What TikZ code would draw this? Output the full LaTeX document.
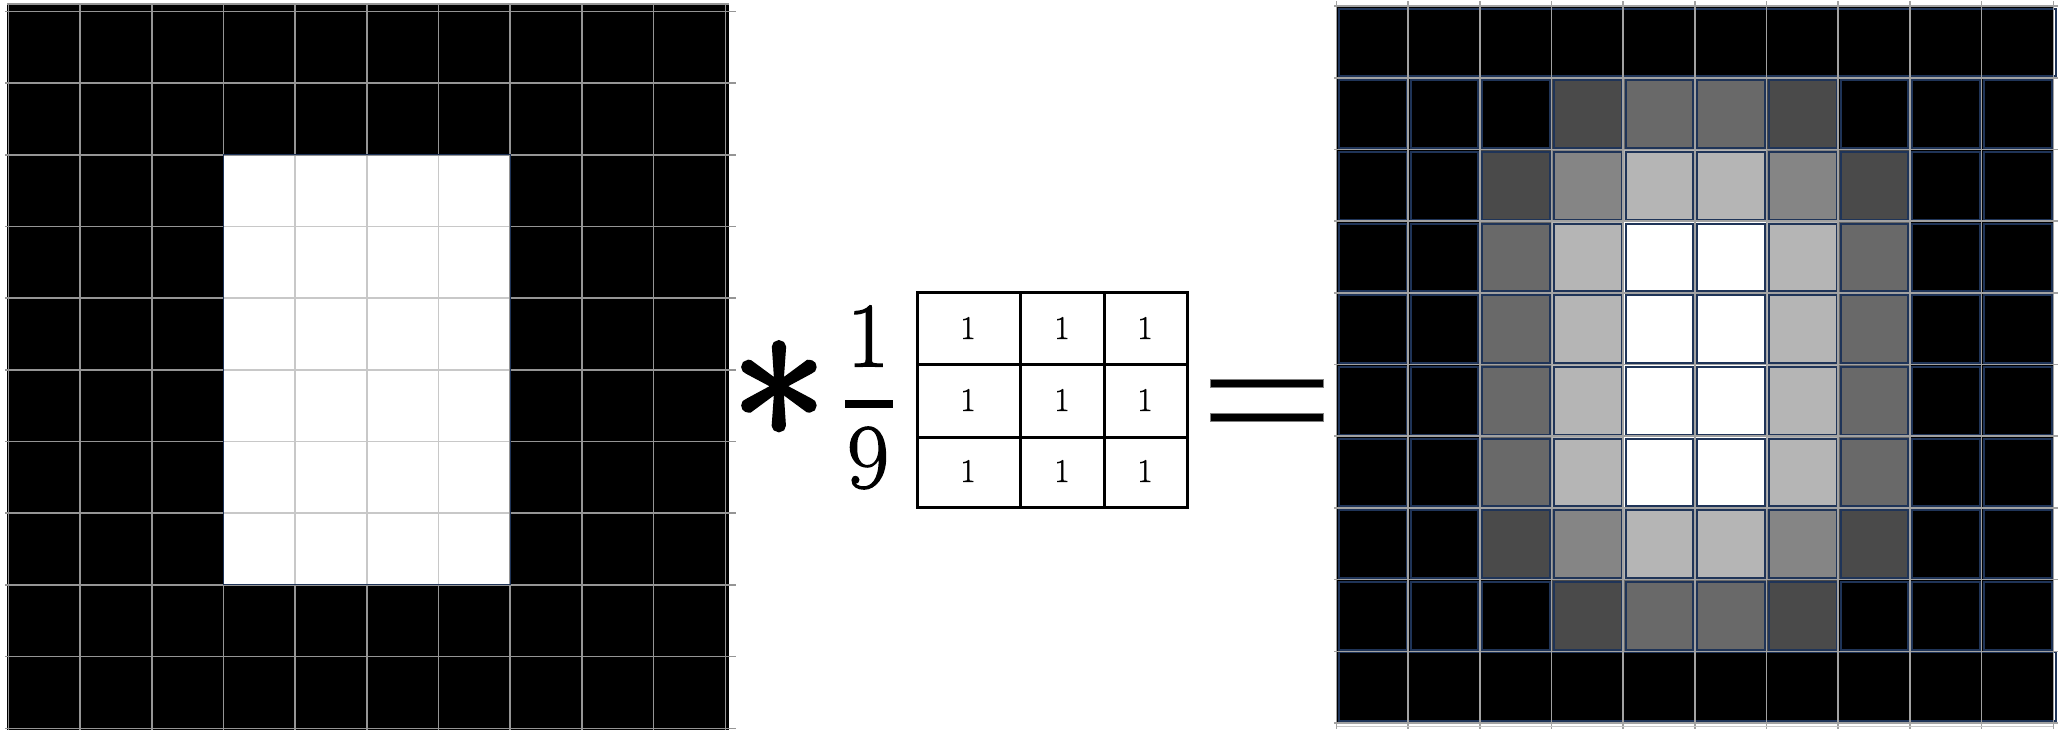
\documentclass[tikz,border=0pt]{standalone}
\usepackage{fontspec}
\newfontfamily\astfont[FakeBold=3]{Latin Modern Roman}
\newfontfamily\numfont[FakeBold=1.5]{Latin Modern Roman}
\definecolor{g0}{HTML}{000000}
\definecolor{g1}{HTML}{4A4A4A}
\definecolor{g2}{HTML}{696969}
\definecolor{g3}{HTML}{858585}
\definecolor{g4}{HTML}{B5B5B5}
\definecolor{g5}{HTML}{FFFFFF}
\definecolor{navy}{HTML}{1F3458}
\definecolor{gridgray}{HTML}{959595}
\definecolor{gridlight}{HTML}{C8C8C8}
\definecolor{gridr}{HTML}{A2A2A2}
\begin{document}
\begin{tikzpicture}[x=1pt,y=-1pt,
  gridline/.style={draw=gridgray,line width=1.6pt},
  lightline/.style={draw=gridlight,line width=1.6pt},
  rgridline/.style={draw=gridr,line width=1.6pt},
  cellborder/.style={draw=navy,line width=2pt},
  kline/.style={draw=black,line width=3pt},
  knum/.style={inner sep=0pt,font=\numfont\fontsize{33}{33}\selectfont},
  bignum/.style={inner sep=0pt,font=\numfont\fontsize{92}{92}\selectfont}]
\useasboundingbox (0,0) rectangle (2059,731);
% ---------------- left image ----------------
\fill[black] (7,4) rectangle (729,729.5);
\fill[white] ({8.3+3*71.7},{11.3+2*71.7}) rectangle ({8.3+7*71.7},{11.3+8*71.7});
\foreach \i in {0,...,10}{
  \draw[gridline] ({8.3+\i*71.7},4) -- ({8.3+\i*71.7},730);
  \draw[gridline] (5,{11.3+\i*71.7}) -- (736,{11.3+\i*71.7});
}
\draw[gridline] (7,4) -- (729,4);
\foreach \i in {4,5,6}{
  \draw[lightline] ({8.3+\i*71.7},{11.3+2*71.7+1}) -- ({8.3+\i*71.7},{11.3+8*71.7-1});
}
\foreach \i in {3,...,7}{
  \draw[lightline] ({8.3+3*71.7+1},{11.3+\i*71.7}) -- ({8.3+7*71.7-1},{11.3+\i*71.7});
}
\draw[navy,line width=1pt] ({8.3+3*71.7},{11.3+2*71.7}) rectangle ({8.3+7*71.7},{11.3+8*71.7});
% ---------------- operator and kernel ----------------
\node[inner sep=0pt,anchor=base,font=\astfont\fontsize{200}{200}\selectfont] (ast) at (779,493) {*};
\node[bignum] (one) at (868,336) {1};
\fill[black] (845,400) rectangle (893,408.3);
\node[bignum] (nine) at (868,458) {9};
\draw[kline] (917,292) rectangle (1187,507);
\draw[kline] (1020,292) -- (1020,507);
\draw[kline] (1104,292) -- (1104,507);
\draw[kline] (917,364) -- (1187,364);
\draw[kline] (917,437) -- (1187,437);
\foreach \cx [count=\k] in {968,1062,1145}{
  \foreach \cy [count=\r] in {328,400,471}{
    \node[knum] (k\r\k) at (\cx,\cy) {1};
  }
}
\draw[fill=black,draw=gray,line width=0.6pt] (1210,379) rectangle (1323,387.5);
\draw[fill=black,draw=gray,line width=0.6pt] (1210,413) rectangle (1323,421.3);
% ---------------- result image ----------------
\foreach \row [count=\r from 0] in {
  {0,0,0,0,0,0,0,0,0,0},
  {0,0,0,1,2,2,1,0,0,0},
  {0,0,1,3,4,4,3,1,0,0},
  {0,0,2,4,5,5,4,2,0,0},
  {0,0,2,4,5,5,4,2,0,0},
  {0,0,2,4,5,5,4,2,0,0},
  {0,0,2,4,5,5,4,2,0,0},
  {0,0,1,3,4,4,3,1,0,0},
  {0,0,0,1,2,2,1,0,0,0},
  {0,0,0,0,0,0,0,0,0,0}}{
  \foreach \v [count=\k from 0] in \row {
    \fill[g\v] ({1336.3+\k*71.7},{6+\r*71.7}) rectangle ({1336.3+(\k+1)*71.7},{6+(\r+1)*71.7});
  }
}
\foreach \r in {1,...,8}{
  \foreach \k in {0,...,9}{
    \draw[cellborder] ({1336.3+\k*71.7+2.5},{6+\r*71.7+2.5}) rectangle ({1336.3+(\k+1)*71.7-1.5},{6+(\r+1)*71.7-1.5});
  }
}
\draw[cellborder] (1339,8.5) rectangle (2055.5,76);
\draw[cellborder] (1339,652) rectangle (2055.5,721);
\foreach \i in {0,...,10}{
  \draw[rgridline] ({1336.3+\i*71.7},1) -- ({1336.3+\i*71.7},729);
  \draw[rgridline] (1334,{6+\i*71.7}) -- (2058,{6+\i*71.7});
}
\draw[draw=gridlight,line width=1pt] (1337,726.5) -- (2053,726.5);
\end{tikzpicture}
\end{document}
